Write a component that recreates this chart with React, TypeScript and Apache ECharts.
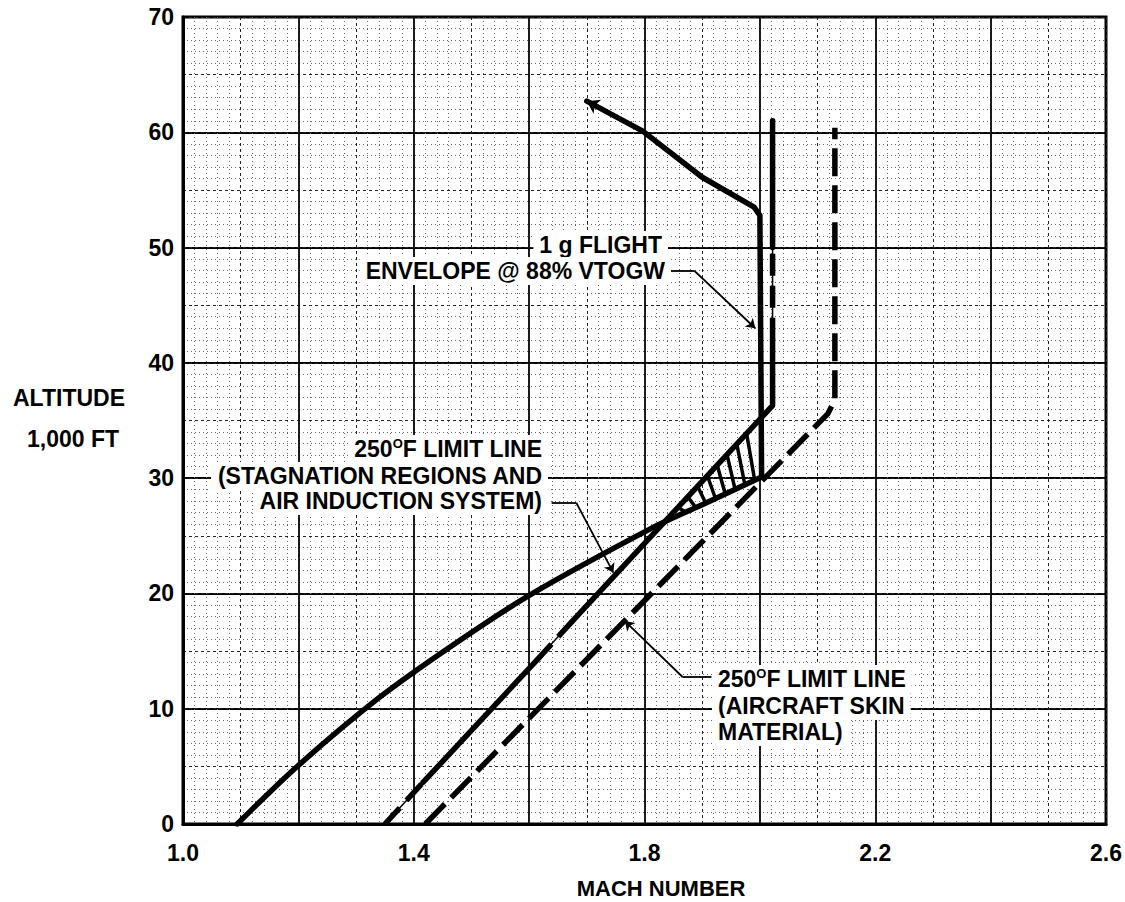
import { useEffect, useRef } from "react";
import * as echarts from "echarts";

// Axis ranges
const machMin = 1.0;
const machMax = 2.6;
const altMin = 0;
const altMax = 70;

// 1 g flight envelope @ 88% VTOGW (Mach, altitude in 1,000 ft)
const envelopeMach = [1.094, 1.197, 1.341, 1.47, 1.601, 1.81, 1.9, 2.003, 2.0, 1.99, 1.9, 1.797, 1.7];
const envelopeAlt = [0, 4.95, 11.0, 15.6, 19.86, 25.6, 27.7, 30.1, 52.8, 53.5, 56.1, 60.1, 62.7];
const envelopeLowerCount = 8; // points up to the corner at Mach 2.0 / 30,000 ft

// 250°F limit line, stagnation regions and air induction system
const stagnationMach = [1.35, 1.416, 1.613, 1.675, 2.022, 2.022, 2.022, 2.022];
const stagnationAlt = [0, 3.6, 14.2, 17.6, 36.3, 42, 50, 61];
// which stretches of that line are drawn broken
const stagnationBroken = [true, false, true, false, false, true, false];

// 250°F limit line, aircraft skin material
const skinMach = [1.42, 2.118, 2.13, 2.13];
const skinAlt = [0, 35.6, 36.8, 60.4];

// hatch strokes between the stagnation limit and the envelope
const hatchMach = [1.858, 1.875, 1.892, 1.909, 1.926, 1.943, 1.96, 1.977];

const FONT = '"Liberation Sans", Arial, Helvetica, sans-serif';

function valueAt(xs: number[], ys: number[], x: number): number {
  for (let i = 0; i < xs.length - 1; i++) {
    const a = xs[i];
    const b = xs[i + 1];
    if (x >= Math.min(a, b) && x <= Math.max(a, b) && a !== b) {
      return ys[i] + ((ys[i + 1] - ys[i]) * (x - a)) / (b - a);
    }
  }
  return NaN;
}

function buildOption() {
  const envelope = envelopeMach.map((m, i) => [m, envelopeAlt[i]]);
  const envelopeLower = envelope.slice(0, envelopeLowerCount);
  const envelopeUpper = envelope.slice(envelopeLowerCount - 1);
  const skin = skinMach.map((m, i) => [m, skinAlt[i]]);

  // group the stagnation line into solid and broken polylines
  const solidGroups: number[][][] = [];
  const brokenGroups: number[][][] = [];
  let current: number[][] = [];
  let currentBroken = stagnationBroken[0];
  for (let i = 0; i < stagnationBroken.length; i++) {
    const p0 = [stagnationMach[i], stagnationAlt[i]];
    const p1 = [stagnationMach[i + 1], stagnationAlt[i + 1]];
    if (stagnationBroken[i] !== currentBroken && current.length) {
      (currentBroken ? brokenGroups : solidGroups).push(current);
      current = [];
    }
    currentBroken = stagnationBroken[i];
    if (!current.length) current.push(p0);
    current.push(p1);
  }
  if (current.length) (currentBroken ? brokenGroups : solidGroups).push(current);

  // hatch strokes: from the stagnation limit down to the envelope's lower branch
  const lowerX = envelopeMach.slice(0, envelopeLowerCount);
  const lowerY = envelopeAlt.slice(0, envelopeLowerCount);
  const stagX = stagnationMach.slice(0, 5);
  const stagY = stagnationAlt.slice(0, 5);
  const hatch = hatchMach.map((m) => {
    const mb = Math.min(m + 0.014, 2.0);
    return { coords: [[m, valueAt(stagX, stagY, m)], [mb, valueAt(lowerX, lowerY, mb)]] };
  });

  const supRich = {
    sup: { fontSize: 13, fontWeight: "bold", fontFamily: FONT, fill: "#000", verticalAlign: "top", lineHeight: 24 },
  };
  const PAD = 6;
  // annotation text; x is the visible edge of the lettering
  const label = (text: string, x: number, y: number, align: string, size = 23, bg = true) => ({
    type: "text",
    x: bg ? (align === "right" ? x + PAD : align === "left" ? x - PAD : x) : x,
    y,
    z: 10,
    style: {
      text,
      fill: "#000",
      fontSize: size,
      fontWeight: "bold",
      fontFamily: FONT,
      align,
      verticalAlign: "middle",
      lineHeight: 24,
      rich: supRich,
      backgroundColor: bg ? "#fff" : undefined,
      padding: bg ? [2, PAD, 2, PAD] : 0,
    },
  });

  const thick = 5.5;

  return {
    animation: false,
    backgroundColor: "#fff",
    grid: {
      left: 183,
      top: 17,
      right: 18,
      bottom: 78,
      show: true,
      borderColor: "#000",
      borderWidth: 3,
      backgroundColor: "#fff",
    },
    xAxis: [
      {
        type: "value",
        min: machMin,
        max: machMax,
        interval: 0.2,
        axisLine: { show: true, onZero: false, lineStyle: { color: "#000", width: 3 } },
        axisTick: { show: false },
        axisLabel: {
          margin: 17,
          color: "#000",
          fontSize: 23,
          fontWeight: "bold",
          fontFamily: FONT,
          formatter: (v: number) => (Math.round(v * 10) % 4 === 2 ? v.toFixed(1) : ""),
        },
        splitLine: { show: true, lineStyle: { color: "#000", width: 1.8 } },
      },
      {
        type: "value",
        min: machMin,
        max: machMax,
        interval: 0.1,
        position: "top",
        axisLine: { show: false },
        axisTick: { show: false },
        axisLabel: { show: false },
        minorTick: { show: false, splitNumber: 5 },
        splitLine: { show: true, lineStyle: { color: "#222", width: 1, type: [3, 3] } },
        minorSplitLine: { show: true, lineStyle: { color: "#666", width: 1, type: [1, 3] } },
      },
    ],
    yAxis: [
      {
        type: "value",
        min: altMin,
        max: altMax,
        interval: 10,
        axisLine: { show: true, onZero: false, lineStyle: { color: "#000", width: 3 } },
        axisTick: { show: false },
        axisLabel: { margin: 9, color: "#000", fontSize: 23, fontWeight: "bold", fontFamily: FONT },
        splitLine: { show: true, lineStyle: { color: "#000", width: 1.8 } },
      },
      {
        type: "value",
        min: altMin,
        max: altMax,
        interval: 5,
        position: "right",
        axisLine: { show: false },
        axisTick: { show: false },
        axisLabel: { show: false },
        minorTick: { show: false, splitNumber: 5 },
        splitLine: { show: true, lineStyle: { color: "#222", width: 1, type: [3, 3] } },
        minorSplitLine: { show: true, lineStyle: { color: "#666", width: 1, type: [1, 3] } },
      },
    ],
    series: [
      {
        name: "1 g flight envelope",
        type: "line",
        data: envelopeLower,
        smooth: 0.3,
        showSymbol: false,
        z: 5,
        lineStyle: { color: "#000", width: thick, cap: "round", join: "round" },
      },
      {
        name: "1 g flight envelope (upper)",
        type: "line",
        data: envelopeUpper,
        showSymbol: false,
        z: 5,
        lineStyle: { color: "#000", width: thick, cap: "round", join: "round" },
      },
      {
        name: "envelope arrow",
        type: "lines",
        coordinateSystem: "cartesian2d",
        z: 5,
        symbol: ["none", "arrow"],
        symbolSize: 12,
        lineStyle: { color: "#000", width: 3, opacity: 1 },
        data: [{ coords: [envelope[envelope.length - 2], envelope[envelope.length - 1]] }],
      },
      {
        name: "stagnation limit",
        type: "lines",
        coordinateSystem: "cartesian2d",
        polyline: true,
        z: 5,
        lineStyle: { color: "#000", width: thick, cap: "round", join: "round", opacity: 1 },
        data: solidGroups.map((g) => ({ coords: g })),
      },
      {
        name: "stagnation limit (thin)",
        type: "lines",
        coordinateSystem: "cartesian2d",
        polyline: true,
        z: 5,
        lineStyle: { color: "#000", width: 1.5, opacity: 1 },
        data: brokenGroups.map((g) => ({ coords: g })),
      },
      {
        name: "stagnation limit (dashes)",
        type: "lines",
        coordinateSystem: "cartesian2d",
        polyline: true,
        z: 5,
        lineStyle: { color: "#000", width: thick, type: [22, 10], opacity: 1 },
        data: brokenGroups.map((g) => ({ coords: g })),
      },
      {
        name: "skin limit",
        type: "line",
        data: skin,
        showSymbol: false,
        z: 5,
        lineStyle: { color: "#000", width: thick, type: [28, 9], join: "round" },
      },
      {
        name: "hatch",
        type: "lines",
        coordinateSystem: "cartesian2d",
        z: 4,
        lineStyle: { color: "#000", width: 3.5, opacity: 1 },
        data: hatch,
      },
      {
        name: "leaders",
        type: "lines",
        coordinateSystem: "cartesian2d",
        z: 6,
        lineStyle: { color: "#000", width: 1.8, opacity: 1 },
        data: [
          { coords: [[1.84, 47.96], [1.887, 47.96]] },
          { coords: [[1.639, 27.84], [1.682, 27.84]] },
          { coords: [[1.916, 12.75], [1.866, 12.75]] },
        ],
      },
      {
        name: "leader tips",
        type: "lines",
        coordinateSystem: "cartesian2d",
        z: 6,
        symbol: ["none", "arrow"],
        symbolSize: 9,
        lineStyle: { color: "#000", width: 1.8, opacity: 1 },
        data: [
          { coords: [[1.887, 47.96], [1.992, 43.0]] },
          { coords: [[1.682, 27.84], [1.746, 21.8]] },
          { coords: [[1.866, 12.75], [1.766, 17.6]] },
        ],
      },
    ],
    graphic: [
      label("1 g FLIGHT", 662, 245, "right"),
      label("ENVELOPE @ 88% VTOGW", 665, 271, "right"),
      label("250{sup|O}F LIMIT LINE", 542, 449, "right"),
      label("(STAGNATION REGIONS AND", 542, 476, "right"),
      label("AIR INDUCTION SYSTEM)", 542, 501, "right"),
      label("250{sup|O}F LIMIT LINE", 718, 679, "left"),
      label("(AIRCRAFT SKIN", 718, 706, "left"),
      label("MATERIAL)", 718, 732, "left"),
      label("ALTITUDE", 69, 398, "center", 23, false),
      label("1,000 FT", 73, 439, "center", 23, false),
      label("MACH NUMBER", 661, 888, "center", 22, false),
    ],
  };
}

export default function App() {
  const ref = useRef<HTMLDivElement>(null);
  useEffect(() => {
    if (!ref.current) return;
    const chart = echarts.init(ref.current, undefined, { renderer: "svg" });
    chart.setOption(buildOption() as any);
    return () => chart.dispose();
  }, []);
  return (
    <div
      ref={ref}
      style={{ position: "fixed", left: 0, top: 0, width: 1125, height: 902, background: "#fff" }}
    />
  );
}
